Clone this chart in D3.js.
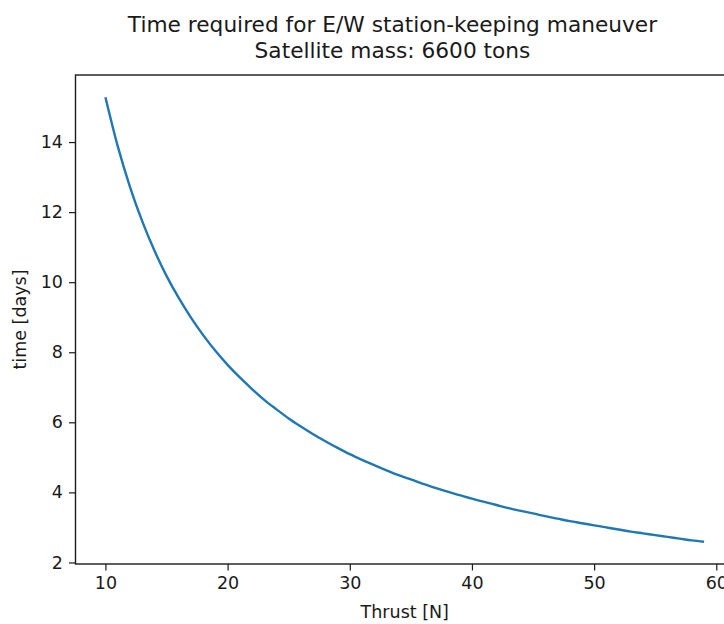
<!DOCTYPE html>
<html>
<head>
<meta charset="utf-8">
<script src="https://cdn.jsdelivr.net/npm/d3@7"></script>
<style>
  html, body { margin: 0; padding: 0; background: #fff; }
  svg { display: block; }
  text { font-family: "DejaVu Sans", sans-serif; fill: #1a1a1a; }
</style>
</head>
<body>
<svg id="chart" width="724" height="624"></svg>
<script>
// ---- data ----
const titleLines = ["Time required for E/W station-keeping maneuver", "Satellite mass: 6600 tons"];
const xLabel = "Thrust [N]";
const yLabel = "time [days]";
const thrust = [10,11,12,13,14,15,16,17,18,19,20,21,22,23,24,25,26,27,28,29,
                30,31,32,33,34,35,36,37,38,39,40,41,42,43,44,45,46,47,48,49,
                50,51,52,53,54,55,56,57,58,59];
const days = [15.28,13.89,12.73,11.75,10.91,10.18,9.55,8.99,8.49,8.04,
              7.64,7.28,6.95,6.64,6.37,6.11,5.88,5.66,5.46,5.27,
              5.09,4.93,4.78,4.63,4.49,4.37,4.24,4.13,4.02,3.92,
              3.82,3.73,3.64,3.55,3.47,3.40,3.32,3.25,3.18,3.12,
              3.06,3.00,2.94,2.88,2.83,2.78,2.73,2.68,2.63,2.59];
const xTicks = [10,20,30,40,50,60];
const yTicks = [2,4,6,8,10,12,14];

// ---- layout ----
const box = {left: 75.5, right: 734, top: 75, bottom: 564};
const svg = d3.select("#chart");

function padDomain(ext) {
  const m = (ext[1] - ext[0]) * 0.05;
  return [ext[0] - m, ext[1] + m];
}
const x = d3.scaleLinear().domain(padDomain(d3.extent(thrust))).range([box.left, box.right]);
const y = d3.scaleLinear().domain(padDomain(d3.extent(days))).range([box.bottom, box.top]);

// line
const pts = thrust.map((t, i) => [t, days[i]]);
svg.append("path")
  .datum(pts)
  .attr("fill", "none")
  .attr("stroke", "#1f77b4")
  .attr("stroke-width", 2.4)
  .attr("stroke-linejoin", "round")
  .attr("stroke-linecap", "butt")
  .attr("d", d3.line().x(d => x(d[0])).y(d => y(d[1])).curve(d3.curveMonotoneX));

// axes
const xAxis = svg.append("g")
  .attr("transform", `translate(0,${box.bottom})`)
  .call(d3.axisBottom(x).tickValues(xTicks).tickSize(6.5).tickPadding(6).tickFormat(d3.format("d")));
const yAxis = svg.append("g")
  .attr("transform", `translate(${box.left},0)`)
  .call(d3.axisLeft(y).tickValues(yTicks).tickSize(6.5).tickPadding(6).tickFormat(d3.format("d")));
[xAxis, yAxis].forEach(g => {
  g.select(".domain").remove();
  g.selectAll(".tick line").attr("stroke", "#1a1a1a").attr("stroke-width", 1.2);
  g.selectAll(".tick text").attr("font-size", 17.5).attr("font-family", "DejaVu Sans").attr("fill", "#1a1a1a");
});

// spines
svg.append("rect")
  .attr("x", box.left).attr("y", box.top)
  .attr("width", box.right - box.left).attr("height", box.bottom - box.top)
  .attr("fill", "none").attr("stroke", "#1a1a1a").attr("stroke-width", 1.4);

// labels
svg.append("text")
  .attr("x", (box.left + box.right) / 2).attr("y", 618)
  .attr("text-anchor", "middle").attr("font-size", 17.5)
  .text(xLabel);
svg.append("text")
  .attr("transform", `translate(26,${(box.top + box.bottom) / 2}) rotate(-90)`)
  .attr("text-anchor", "middle").attr("font-size", 17.5)
  .text(yLabel);

// title
svg.append("g").selectAll("text").data(titleLines).join("text")
  .attr("x", 392.5).attr("y", (d, i) => 32 + i * 26)
  .attr("text-anchor", "middle").attr("font-size", 21.7)
  .text(d => d);
</script>
</body>
</html>
